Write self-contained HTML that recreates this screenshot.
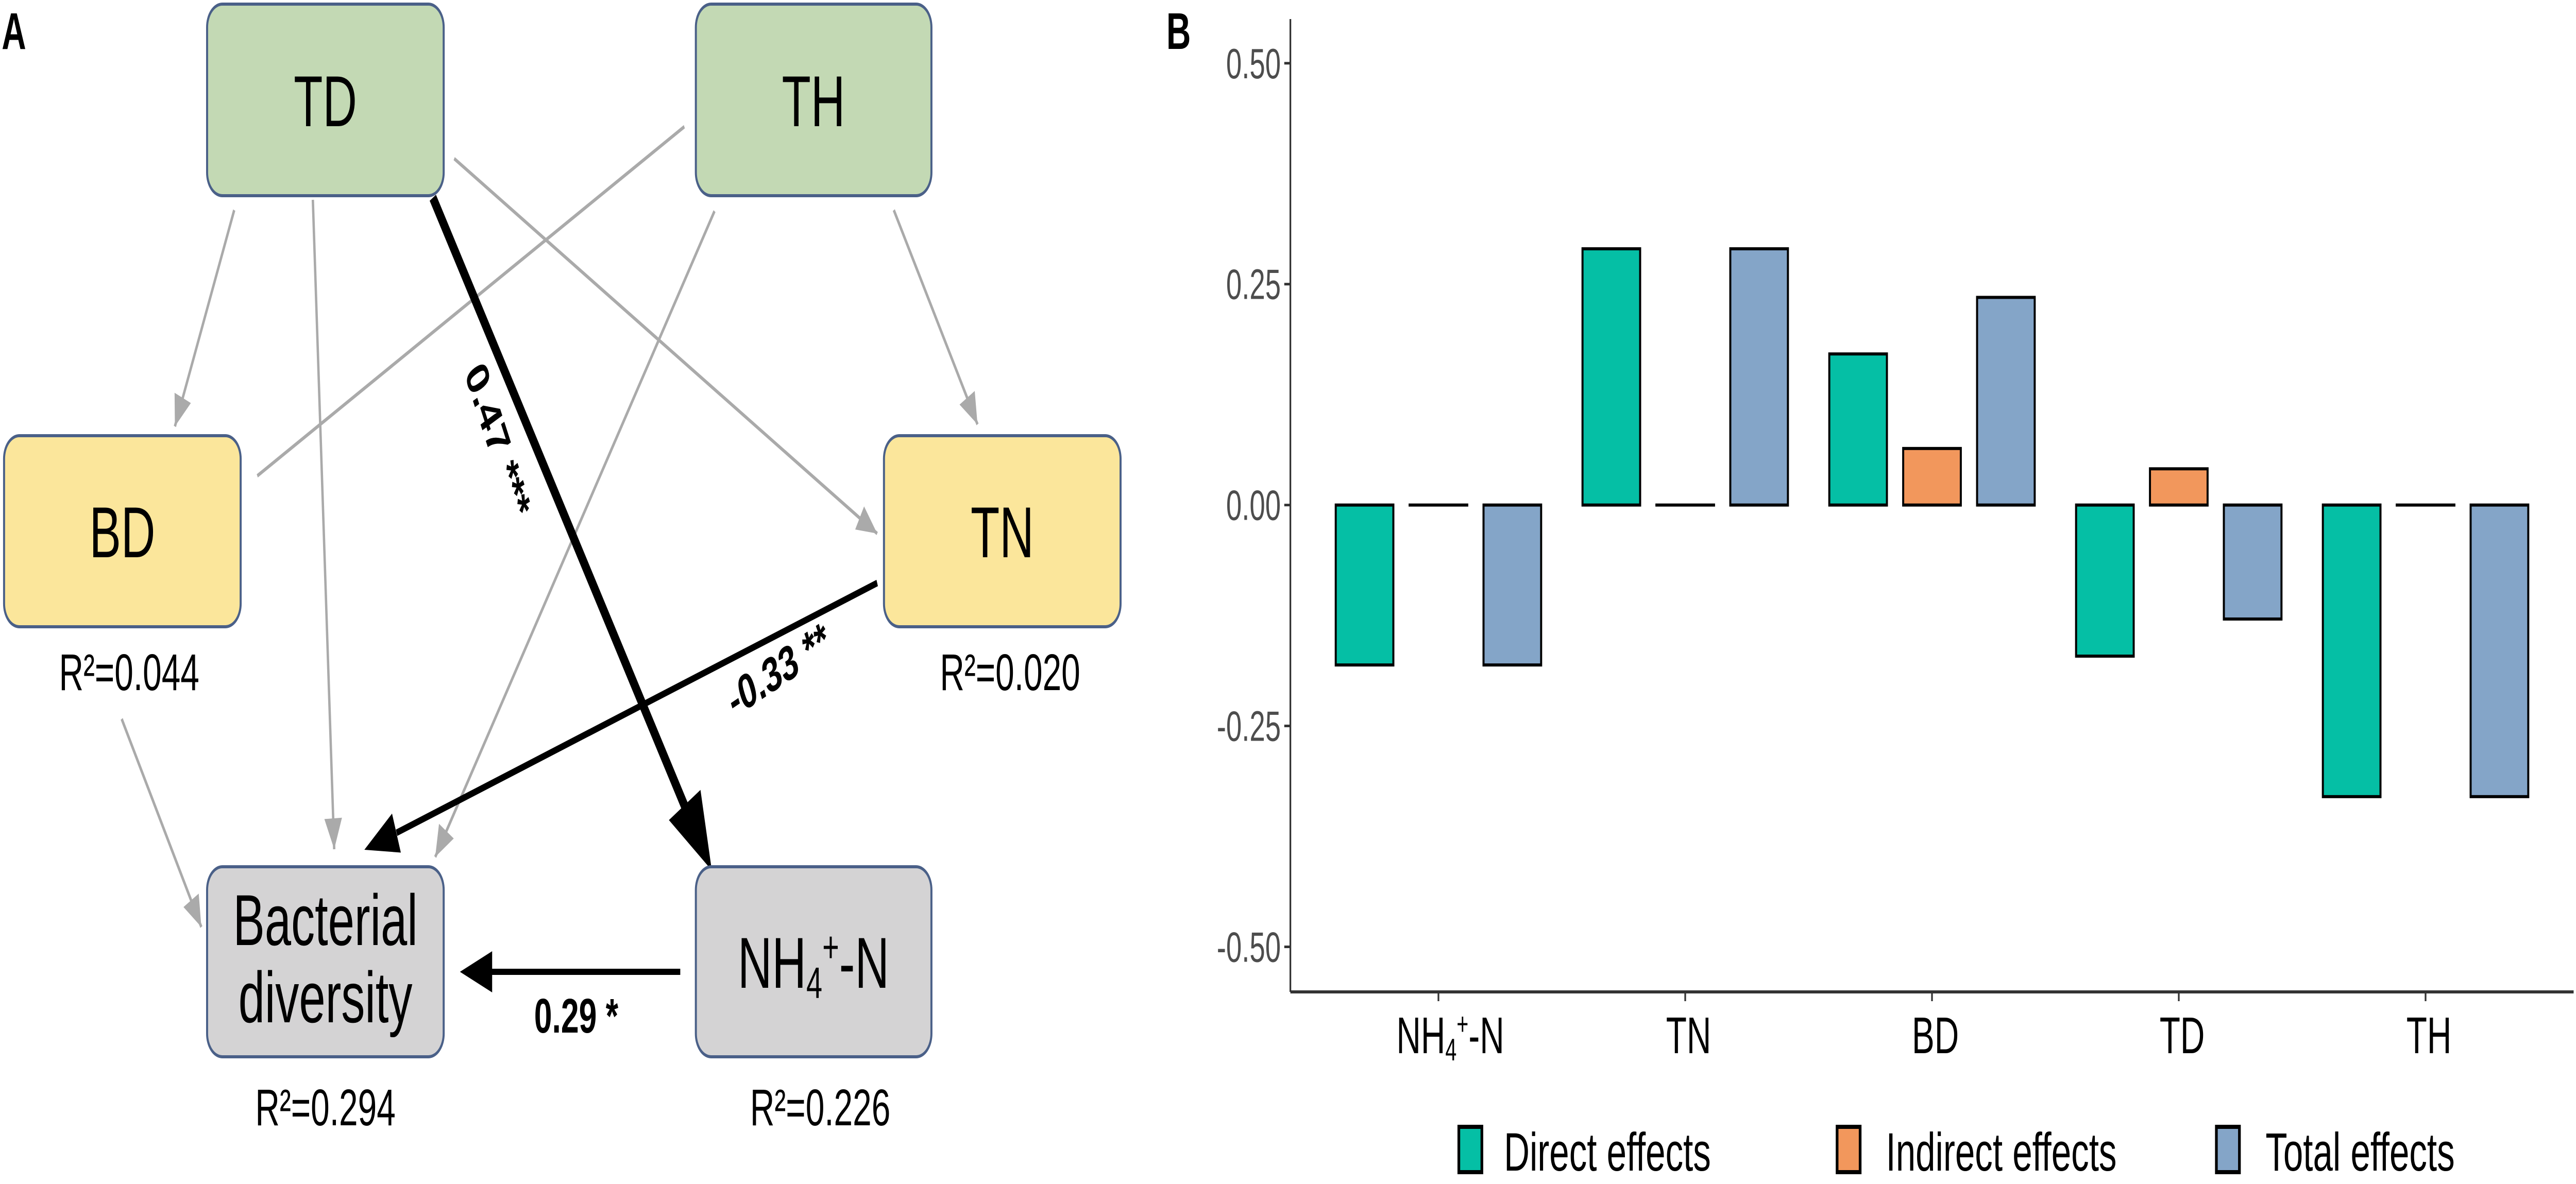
<!DOCTYPE html>
<html><head><meta charset="utf-8"><style>
html,body{margin:0;padding:0;background:#fff;width:100%;height:100%;overflow:hidden;}
svg{display:block;font-family:"Liberation Sans",Arial,sans-serif;width:100vw;height:100vh;}
</style></head><body>
<svg id="fig" viewBox="0 0 7600 2299" preserveAspectRatio="none" xmlns="http://www.w3.org/2000/svg">
<g id="panelA">
<text x="5" y="95" font-size="100" font-weight="bold">A</text>
<g stroke="#aaaaaa" stroke-width="7" fill="none">
<line x1="691" y1="408" x2="516" y2="828"/>
<line x1="923" y1="388" x2="986" y2="1649"/>
<line x1="1340" y1="308" x2="2588" y2="1036"/>
<line x1="2019" y1="246" x2="759" y2="924"/>
<line x1="2108" y1="410" x2="1284" y2="1664"/>
<line x1="2637" y1="408" x2="2884" y2="824"/>
<line x1="359" y1="1396" x2="594" y2="1800"/>
</g>
<g fill="#aaaaaa">
<polygon points="0,0 -60,-26 -60,26" transform="translate(516,828) rotate(112.6)"/>
<polygon points="0,0 -60,-26 -60,26" transform="translate(986,1649) rotate(87.1)"/>
<polygon points="0,0 -60,-26 -60,26" transform="translate(2588,1036) rotate(30.3)"/>
<polygon points="0,0 -60,-26 -60,26" transform="translate(1284,1664) rotate(123.3)"/>
<polygon points="0,0 -60,-26 -60,26" transform="translate(2884,824) rotate(59.3)"/>
<polygon points="0,0 -60,-26 -60,26" transform="translate(594,1800) rotate(59.8)"/>
</g>
<g>
<line x1="1277" y1="384" x2="2020" y2="1565" stroke="#000" stroke-width="22"/>
<polygon points="0,0 -150,-55 -150,55" transform="translate(2100,1690) rotate(57.8)" fill="#000"/>
<line x1="2588" y1="1132" x2="1170" y2="1617" stroke="#000" stroke-width="13"/>
<polygon points="0,0 -100,-40 -100,40" transform="translate(1075,1650) rotate(161.1)" fill="#000"/>
<line x1="2007" y1="1887" x2="1430" y2="1887" stroke="#000" stroke-width="12"/>
<polygon points="0,0 -95,-40 -95,40" transform="translate(1357,1887) rotate(180)" fill="#000"/>
</g>
<text transform="translate(1440,870) rotate(64)" font-size="95" font-weight="bold" text-anchor="middle">0.47 ***</text>
<text transform="translate(2310,1330) rotate(-24)" font-size="95" font-weight="bold" text-anchor="middle">-0.33 **</text>
<text x="1700" y="2005" font-size="95" font-weight="bold" text-anchor="middle">0.29 *</text>
<g stroke="#4a6088" stroke-width="6">
<rect x="611" y="8" width="698" height="372" rx="45" fill="#c3d9b4"/>
<rect x="2053" y="8" width="695" height="372" rx="45" fill="#c3d9b4"/>
<rect x="12" y="846" width="698" height="371" rx="45" fill="#fbe69b"/>
<rect x="2608" y="846" width="698" height="371" rx="45" fill="#fbe69b"/>
<rect x="611" y="1683" width="698" height="369" rx="45" fill="#d4d3d4"/>
<rect x="2053" y="1683" width="695" height="369" rx="45" fill="#d4d3d4"/>
</g>
<g font-size="140" text-anchor="middle" fill="#000">
<text x="960" y="245">TD</text>
<text x="2400" y="245">TH</text>
<text x="361" y="1082">BD</text>
<text x="2957" y="1082">TN</text>
<text x="960" y="1835">Bacterial</text>
<text x="960" y="1985">diversity</text>
<text x="2400" y="1918">NH<tspan font-size="85" dy="20">4</tspan><tspan font-size="85" dy="-70">+</tspan><tspan dy="50">-N</tspan></text>
</g>
<g font-size="100" text-anchor="middle" fill="#000">
<text x="381" y="1340">R²=0.044</text>
<text x="2980" y="1340">R²=0.020</text>
<text x="960" y="2185">R²=0.294</text>
<text x="2420" y="2185">R²=0.226</text>
</g>
</g>
<g id="panelB">
<text x="3441" y="95" font-size="100" font-weight="bold">B</text>
<g id="bars"></g>
<g id="axes"></g>
<g id="legend"></g>
</g>
</svg>
<script>
const categories = ["NH4+-N", "TN", "BD", "TD", "TH"];
const directEffects = [-0.181, 0.290, 0.171, -0.171, -0.330];
const indirectEffects = [0, 0, 0.064, 0.041, 0];
const totalEffects = [-0.181, 0.290, 0.235, -0.129, -0.330];
const yTicks = [0.50, 0.25, 0.00, -0.25, -0.50];
const yTickLabels = ["0.50", "0.25", "0.00", "-0.25", "-0.50"];
const seriesNames = ["Direct effects", "Indirect effects", "Total effects"];

const NS = "http://www.w3.org/2000/svg";
const plotL = 3807, plotR = 7593, plotT = 37, plotB = 1926;
const yMin = -0.551, yMax = 0.55;
function yScale(v){ return plotB - (v - yMin) / (yMax - yMin) * (plotB - plotT); }
function xScale(i){ const d0 = 0.4, d1 = categories.length + 0.6; return plotL + ((i + 1) - d0) / (d1 - d0) * (plotR - plotL); }
function mk(tag, attrs, parent){ const e = document.createElementNS(NS, tag); for (const k in attrs) e.setAttribute(k, attrs[k]); parent.appendChild(e); return e; }

const colors = ["#05bfa5", "#f2975c", "#84a5c8"];
const series = [directEffects, indirectEffects, totalEffects];
const offsets = [-218, 0, 218];
const bw = 170;
const barsG = document.getElementById("bars");
series.forEach((vals, s) => {
  vals.forEach((v, i) => {
    const cx = xScale(i) + offsets[s];
    const y0 = yScale(0), y1 = yScale(v);
    const r = mk("rect", {x: cx - bw/2, y: Math.min(y0, y1), width: bw, height: Math.max(Math.abs(y1 - y0), 0.01), fill: colors[s], stroke: "#000", "stroke-width": 6}, barsG);
    
    
  });
});

const axesG = document.getElementById("axes");
const yAxis = mk("line", {x1: plotL, y1: plotT, x2: plotL, y2: plotB, stroke: "#333", "stroke-width": 5}, axesG);


const xAxis = mk("line", {x1: plotL, y1: plotB, x2: plotR, y2: plotB, stroke: "#333", "stroke-width": 6}, axesG);


yTicks.forEach((t, k) => {
  const y = yScale(t);
  mk("line", {x1: plotL - 18, y1: y, x2: plotL, y2: y, stroke: "#333", "stroke-width": 5}, axesG);
  const lab = mk("text", {x: plotL - 28, y: y + 29, "font-size": 83, "text-anchor": "end", fill: "#4d4d4d"}, axesG);
  lab.textContent = yTickLabels[k];
  
  
});
categories.forEach((c, i) => {
  const x = xScale(i);
  mk("line", {x1: x, y1: plotB, x2: x, y2: plotB + 18, stroke: "#333", "stroke-width": 5}, axesG);
  const lab = mk("text", {x: x + (i === 0 ? 35 : 10), y: 2045, "font-size": 100, "text-anchor": "middle", fill: "#000"}, axesG);
  if (c === "NH4+-N") {
    lab.innerHTML = 'NH<tspan font-size="60" dy="14">4</tspan><tspan font-size="60" dy="-50">+</tspan><tspan dy="36">-N</tspan>';
  } else { lab.textContent = c; }
  
  
});

const legG = document.getElementById("legend");
const keyX = [4304, 5420, 6539];
const textX = [4437, 5564, 6684];
seriesNames.forEach((n, s) => {
  const k = mk("rect", {x: keyX[s], y: 2188, width: 68, height: 88, fill: colors[s], stroke: "#000", "stroke-width": 8}, legG);
  
  
  const t = mk("text", {x: textX[s], y: 2273, "font-size": 105, fill: "#000"}, legG);
  t.textContent = n;
  
  
});
</script>
</body></html>
